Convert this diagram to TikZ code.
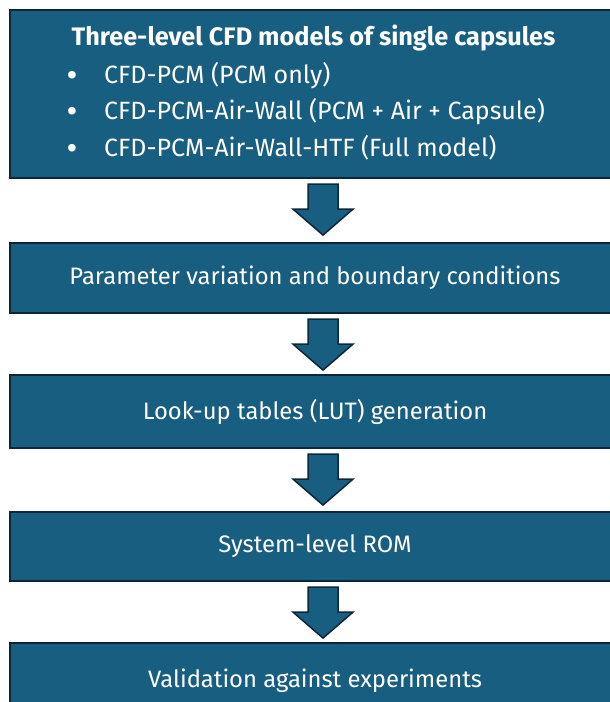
\documentclass[tikz,border=0pt]{standalone}
\usepackage{fontspec}
\setmainfont{Fira Sans}
\newfontfamily\bulletfont{Liberation Sans}
\usetikzlibrary{calc}
\definecolor{boxfill}{RGB}{23,94,128}
\definecolor{boxedge}{RGB}{12,40,56}

% block arrow hanging below a stage box
\newcommand\stagearrow[1]{%
  \draw[blockarrow] ($(#1.south)+(8,5)$) ++(-15,0) -- ++(30,0) -- ++(0,25)
    -- ++(15,0) -- ++(-30,26) -- ++(-30,-26) -- ++(15,0) -- cycle;}

\begin{document}
\begin{tikzpicture}[x=1pt,y=-1pt,
  stage/.style={draw=boxedge, line width=2.2pt, fill=boxfill, minimum width=610pt,
    text=white, font=\fontsize{23.8}{28}\selectfont, inner sep=0pt},
  heading/.style={text=white, font=\bfseries\fontsize{25.3}{30}\selectfont, inner sep=0pt},
  item/.style={text=white, font=\fontsize{25}{30}\selectfont, inner sep=0pt},
  dot/.style={text=white, font=\bulletfont\fontsize{28}{32}\selectfont, inner sep=0pt},
  blockarrow/.style={draw=boxedge, line width=1.5pt, fill=boxfill, line join=miter}]
\useasboundingbox (0,0) rectangle (610,702);
\clip (0,0) rectangle (610,702);

% stage boxes
\node[stage, minimum height=168pt] (b1) at (315,94) {};
\node[stage, minimum height=70pt] (b2) at (315,278) {Parameter variation and boundary conditions};
\node[stage, minimum height=73pt] (b3) at (315,411.5) {Look-up tables (LUT) generation};
\node[stage, minimum height=69pt] (b4) at (315,546.5) {System-level ROM};
\node[stage, minimum height=76pt] (b5) at (315,681) {Validation against experiments};

% contents of the first box
\node[heading, anchor=base] (t1) at (313.5,45) {Three-level CFD models of single capsules};
\node[dot, anchor=base] (d1) at (72,84) {•};
\node[dot, anchor=base] (d2) at (72,120) {•};
\node[dot, anchor=base] (d3) at (72,157) {•};
\node[item, anchor=base west] (l1) at (104,83) {CFD-PCM (PCM only)};
\node[item, anchor=base west] (l2) at (104,119) {CFD-PCM-Air-Wall (PCM + Air + Capsule)};
\node[item, anchor=base west] (l3) at (104,156) {CFD-PCM-Air-Wall-HTF (Full model)};

% arrows between stages
\stagearrow{b1}
\stagearrow{b2}
\stagearrow{b3}
\stagearrow{b4}
\end{tikzpicture}
\end{document}
